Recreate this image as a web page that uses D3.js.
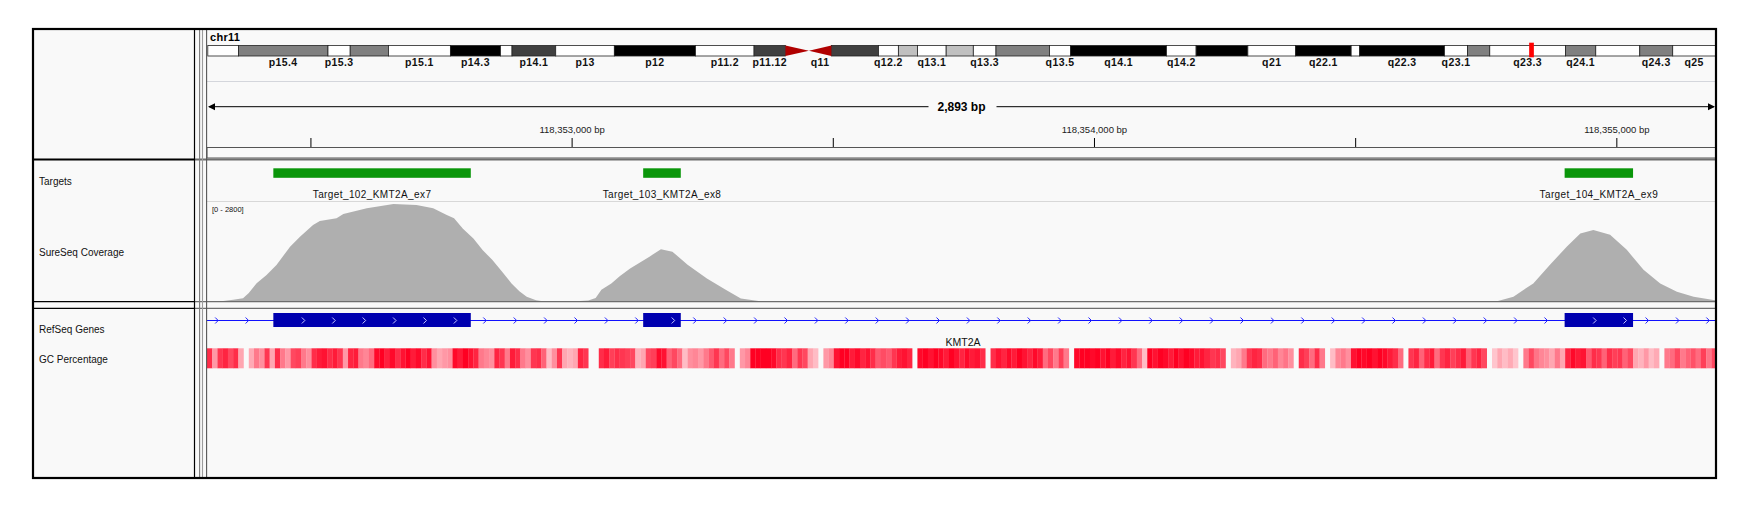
<!DOCTYPE html>
<html>
<head>
<meta charset="utf-8">
<script src="https://cdn.jsdelivr.net/npm/d3@7"></script>
<style>
  body { margin: 0; background: #fff; }
  svg { display: block; font-family: "Liberation Sans", Arial, sans-serif; }
</style>
</head>
<body>
<div id="igv"></div>
<script>
// ---- data ----
const chromName = "chr11";
const chromLength = 135.0; // Mb
const viewStart = 118352302, viewEnd = 118355195;
const rulerTicks = [118352500, 118353000, 118353500, 118354000, 118354500, 118355000];

const bandNames = ["p15.5","p15.4","p15.3","p15.2","p15.1","p14.3","p14.2","p14.1","p13","p12","p11.2","p11.12","p11.11",
  "q11","q12.1","q12.2","q12.3","q13.1","q13.2","q13.3","q13.4","q13.5","q14.1","q14.2","q14.3","q21","q22.1","q22.2",
  "q22.3","q23.1","q23.2","q23.3","q24.1","q24.2","q24.3","q25"];
const bandStarts = [0, 2.74, 10.76, 12.75, 16.17, 21.72, 26.21, 27.24, 31.15, 36.40, 43.67, 48.91, 51.72,
  53.82, 55.83, 60.05, 61.83, 63.54, 66.11, 68.54, 70.57, 75.36, 77.25, 85.84, 88.49, 93.12, 97.40, 102.37,
  103.13, 110.73, 112.79, 114.78, 121.56, 124.27, 128.21, 131.16];
const bandStains = ["gneg","gpos50","gneg","gpos50","gneg","gpos100","gneg","gpos75","gneg","gpos100","gneg","gpos75","acen",
  "acen","gpos75","gneg","gpos25","gneg","gpos25","gneg","gpos50","gneg","gpos100","gneg","gpos100","gneg","gpos100","gneg",
  "gpos100","gneg","gpos50","gneg","gpos50","gneg","gpos50","gneg"];
const shownBands = ["p15.4","p15.3","p15.1","p14.3","p14.1","p13","p12","p11.2","p11.12","q11","q12.2","q13.1","q13.3",
  "q13.5","q14.1","q14.2","q21","q22.1","q22.3","q23.1","q23.3","q24.1","q24.3","q25"];

const trackNames = ["Targets", "SureSeq Coverage", "RefSeq Genes", "GC Percentage"];

const targetNames = ["Target_102_KMT2A_ex7", "Target_103_KMT2A_ex8", "Target_104_KMT2A_ex9"];
const targetStarts = [118352429, 118353137, 118354901];
const targetEnds = [118352807, 118353209, 118355032];

const coverageMax = 2800;
const coverageOffset = [0, 15, 31, 50, 69, 80, 95, 114, 133, 159, 178, 203, 216, 248, 261, 306, 357, 401, 433, 459,
  473, 490, 510, 528, 546, 565, 583, 598, 612, 630, 649, 689, 730, 744, 755, 774, 790, 810, 847, 869, 891, 920, 957,
  993, 1022, 1059, 1078, 2440, 2466, 2501, 2539, 2571, 2603, 2629, 2654, 2686, 2718, 2750, 2782, 2814, 2846, 2884, 2893];
const coverageDepth = [20, 25, 28, 60, 104, 250, 524, 756, 1036, 1548, 1828, 2156, 2268, 2344, 2464, 2624, 2744, 2716, 2624, 2436,
  2344, 2050, 1780, 1450, 1180, 850, 520, 300, 150, 50, 10, 10, 40, 110, 340, 520, 720, 940, 1270, 1480, 1410, 1040, 660,
  340, 100, 20, 0, 0, 5, 150, 520, 1040, 1550, 1920, 2016, 1880, 1460, 900, 520, 290, 150, 55, 45];

const geneName = "KMT2A";
const exonStarts = [118352429, 118353137, 118354901];
const exonEnds = [118352807, 118353209, 118355032];

const gcWindow = 10; // bp per value
const gcValues = [
  72, 48, 70, 74, 66, 72, 45, 0, 44, 55,
  50, 70, 45, 72, 55, 48, 66, 68, 55, 50,
  72, 76, 78, 72, 76, 70, 48, 74, 76, 55,
  52, 58, 80, 82, 75, 80, 72, 78, 82, 76,
  80, 72, 78, 50, 45, 48, 50, 80, 76, 82,
  78, 74, 55, 52, 50, 74, 70, 55, 76, 72,
  55, 50, 70, 72, 60, 40, 50, 70, 45, 42,
  45, 74, 70, 0, 0, 72, 76, 68, 72, 70,
  68, 66, 42, 45, 66, 68, 80, 78, 60, 66,
  58, 40, 50, 52, 48, 55, 62, 70, 58, 66,
  55, 0, 48, 52, 85, 85, 82, 85, 80, 72,
  70, 74, 58, 70, 66, 45, 40, 0, 48, 52,
  78, 82, 84, 76, 80, 74, 78, 72, 62, 65,
  62, 70, 76, 78, 74, 0, 80, 82, 78, 84,
  80, 76, 82, 78, 74, 80, 76, 78, 72, 0,
  72, 78, 74, 80, 76, 82, 78, 74, 80, 76,
  58, 66, 55, 68, 55, 0, 80, 82, 84, 80,
  82, 78, 84, 76, 80, 74, 78, 70, 58, 40,
  82, 78, 84, 80, 76, 82, 78, 84, 80, 76,
  78, 74, 70, 72, 66, 0, 42, 45, 55, 70,
  74, 72, 58, 55, 60, 52, 56, 50, 0, 72,
  68, 58, 72, 55, 0, 40, 52, 55, 50, 78,
  82, 80, 84, 78, 82, 80, 76, 72, 58, 0,
  70, 74, 60, 72, 76, 58, 70, 74, 68, 72,
  76, 60, 70, 74, 66, 0, 38, 45, 40, 44,
  38, 0, 55, 66, 56, 52, 50, 45, 55, 45,
  74, 80, 76, 78, 62, 72, 70, 60, 72, 68,
  70, 60, 66, 45, 42, 48, 40, 44, 0, 55,
  58, 66, 55, 60, 64, 58, 68, 56, 66, 60
];

// ---- layout ----
const W = 1753, H = 514;
const frame = { left: 33, top: 29, right: 1716, bottom: 478 };
const nameRight = 194.5;
const dataLeft = 207, dataRight = 1716;

const svg = d3.select("#igv").append("svg")
  .attr("width", W).attr("height", H);

svg.append("rect").attr("width", W).attr("height", H).attr("fill", "#fff");
svg.append("rect")
  .attr("x", frame.left).attr("y", frame.top)
  .attr("width", frame.right - frame.left).attr("height", frame.bottom - frame.top)
  .attr("fill", "#f9f9f9");

const defs = svg.append("defs");
defs.append("clipPath").attr("id", "dataClip")
  .append("rect").attr("x", dataLeft).attr("y", frame.top)
  .attr("width", dataRight - dataLeft).attr("height", frame.bottom - frame.top);

// genomic scale (the view runs a little past the visible panel edge)
const x = d3.scaleLinear().domain([viewStart, viewEnd]).range([dataLeft, 1718.2]);

// ---- header: ideogram ----
const header = svg.append("g");
header.append("text")
  .attr("x", 210).attr("y", 41)
  .attr("font-size", 11).attr("font-weight", "bold").attr("letter-spacing", 0.3)
  .text(chromName);

const ideoX = d3.scaleLinear().domain([0, chromLength]).range([207.8, 1715.6]);
const stainColor = { gneg: "#ffffff", gpos25: "#c0c0c0", gpos50: "#808080", gpos75: "#404040", gpos100: "#000000" };
const bands = bandNames.map((n, i) => ({
  name: n, start: bandStarts[i], end: i + 1 < bandStarts.length ? bandStarts[i + 1] : chromLength, stain: bandStains[i]
}));
const ideoTop = 45.5, ideoH = 10.5, ideoMid = ideoTop + ideoH / 2;

bands.filter(b => b.stain !== "acen").forEach(b => {
  header.append("rect")
    .attr("x", ideoX(b.start)).attr("y", ideoTop)
    .attr("width", ideoX(b.end) - ideoX(b.start)).attr("height", ideoH)
    .attr("fill", stainColor[b.stain])
    .attr("stroke", "#222").attr("stroke-width", 0.8);
});
// centromere
bands.filter(b => b.stain === "acen").forEach(b => {
  const x0 = ideoX(b.start), x1 = ideoX(b.end);
  const pts = b.name.startsWith("p")
    ? [[x0, ideoTop], [x1, ideoMid], [x0, ideoTop + ideoH]]
    : [[x1, ideoTop], [x0, ideoMid], [x1, ideoTop + ideoH]];
  header.append("path").attr("d", d3.line()(pts) + "Z").attr("fill", "#b00000");
});
header.selectAll(".bandLabel")
  .data(bands.filter(b => shownBands.includes(b.name)))
  .join("text")
  .attr("class", "bandLabel")
  .attr("x", b => (ideoX(b.start) + ideoX(b.end)) / 2)
  .attr("y", 66)
  .attr("text-anchor", "middle")
  .attr("font-size", 10.5).attr("font-weight", "bold").attr("letter-spacing", 0.4)
  .attr("fill", "#111")
  .text(b => b.name);

// current view marker
const markX = ideoX(viewStart / 1e6);
header.append("rect")
  .attr("x", markX - 0.5).attr("y", 42.7)
  .attr("width", Math.max(ideoX(viewEnd / 1e6) - markX, 4.7)).attr("height", 14.6)
  .attr("fill", "#ff0000");

header.append("line")
  .attr("x1", dataLeft).attr("x2", dataRight).attr("y1", 81.5).attr("y2", 81.5)
  .attr("stroke", "#d4d6dc");

// ---- header: ruler ----
const spanY = 106.7;
const spanLabel = d3.format(",")(viewEnd - viewStart) + " bp";
const midX = (dataLeft + dataRight) / 2;
header.append("line").attr("x1", dataLeft + 2).attr("x2", midX - 33).attr("y1", spanY).attr("y2", spanY).attr("stroke", "#000");
header.append("line").attr("x1", midX + 35).attr("x2", dataRight - 2).attr("y1", spanY).attr("y2", spanY).attr("stroke", "#000");
header.append("path").attr("d", d3.line()([[dataLeft + 1, spanY], [dataLeft + 8, spanY - 3.5], [dataLeft + 8, spanY + 3.5]]) + "Z").attr("fill", "#000");
header.append("path").attr("d", d3.line()([[dataRight - 1, spanY], [dataRight - 8, spanY - 3.5], [dataRight - 8, spanY + 3.5]]) + "Z").attr("fill", "#000");
header.append("text")
  .attr("x", midX).attr("y", spanY + 4.3)
  .attr("text-anchor", "middle").attr("font-size", 12).attr("font-weight", "bold")
  .text(spanLabel);

const axis = d3.axisTop(x)
  .tickValues(rulerTicks)
  .tickSize(9.5)
  .tickPadding(5.5)
  .tickFormat(t => t % 1000 === 0 ? d3.format(",")(t) + " bp" : "");
const axisG = header.append("g")
  .attr("transform", "translate(0,147.5)")
  .call(axis);
axisG.select(".domain").remove();
axisG.selectAll("text").attr("font-size", 9.5).attr("font-family", "'Liberation Sans', Arial, sans-serif").attr("fill", "#222");
axisG.selectAll("line").attr("stroke", "#000");

header.append("rect")
  .attr("x", dataLeft).attr("y", 147.5)
  .attr("width", dataRight - dataLeft).attr("height", 10.5)
  .attr("fill", "none").attr("stroke", "#555");

// ---- track area ----
const data = svg.append("g").attr("clip-path", "url(#dataClip)");

// Targets
const targets = targetNames.map((n, i) => ({ name: n, start: targetStarts[i], end: targetEnds[i] }));
data.selectAll(".target")
  .data(targets)
  .join("rect")
  .attr("class", "target")
  .attr("x", d => x(d.start)).attr("y", 168.3)
  .attr("width", d => x(d.end) - x(d.start)).attr("height", 9.5)
  .attr("fill", "#0a960a");
data.selectAll(".targetLabel")
  .data(targets)
  .join("text")
  .attr("class", "targetLabel")
  .attr("x", d => (x(d.start) + x(d.end)) / 2).attr("y", 198)
  .attr("text-anchor", "middle").attr("font-size", 10).attr("letter-spacing", 0.4)
  .attr("fill", "#111")
  .text(d => d.name);

data.append("line")
  .attr("x1", dataLeft).attr("x2", dataRight).attr("y1", 201.5).attr("y2", 201.5)
  .attr("stroke", "#d8d8d8");

// Coverage
const yCov = d3.scaleLinear().domain([0, coverageMax]).range([302, 202]);
const coverage = coverageOffset.map((o, i) => ({ pos: viewStart + o, depth: coverageDepth[i] }));
data.append("path")
  .datum(coverage)
  .attr("fill", "#afafaf")
  .attr("d", d3.area().x(d => x(d.pos)).y0(yCov(0)).y1(d => yCov(d.depth)));
data.append("text")
  .attr("x", 212).attr("y", 212)
  .attr("font-size", 7.5).attr("fill", "#111")
  .text("[0 - " + coverageMax + "]");

// RefSeq gene
const geneY = 320.5;
data.append("line")
  .attr("x1", dataLeft).attr("x2", dataRight).attr("y1", geneY).attr("y2", geneY)
  .attr("stroke", "#1010ff").attr("stroke-width", 1.2);
const exons = exonStarts.map((s, i) => ({ start: s, end: exonEnds[i] }));
data.selectAll(".exon")
  .data(exons)
  .join("rect")
  .attr("class", "exon")
  .attr("x", d => x(d.start)).attr("y", 313)
  .attr("width", d => x(d.end) - x(d.start)).attr("height", 14)
  .attr("fill", "#0000b0");

const chevron = cx => d3.line()([[cx - 1.5, geneY - 3], [cx + 1.5, geneY], [cx - 1.5, geneY + 3]]);
const step = 30.4;
// introns: gaps between the exons (gene runs past both edges of the view)
const intronEdges = [dataLeft, ...exons.flatMap(e => [x(e.start), x(e.end)]), dataRight];
for (let i = 0; i < intronEdges.length; i += 2) {
  for (let cx = intronEdges[i] + (i === 0 ? 9.7 : 14); cx < intronEdges[i + 1] - 5; cx += step) {
    data.append("path").attr("d", chevron(cx)).attr("fill", "none").attr("stroke", "#2020ff").attr("stroke-width", 1);
  }
}
exons.forEach(e => {
  for (let cx = x(e.start) + 30; cx < x(e.end) - 5; cx += step) {
    data.append("path").attr("d", chevron(cx)).attr("fill", "none").attr("stroke", "#c8c8ff").attr("stroke-width", 1);
  }
});
data.append("text")
  .attr("x", 963).attr("y", 346)
  .attr("text-anchor", "middle").attr("font-size", 10.5).attr("fill", "#111")
  .text(geneName);

// GC percentage heatmap
const gcColor = d3.scaleLinear().domain([25, 82]).range(["#ffffff", "#ff0022"]).clamp(true);
data.selectAll(".gc")
  .data(gcValues.map((v, i) => ({ start: viewStart + i * gcWindow, value: v })).filter(d => d.value > 0))
  .join("rect")
  .attr("class", "gc")
  .attr("x", d => x(d.start)).attr("y", 348.3)
  .attr("width", d => x(d.start + gcWindow) - x(d.start) + 0.2).attr("height", 20)
  .attr("fill", d => gcColor(d.value));

// ---- track names ----
const nameY = [181.7, 252.7, 329, 359.3];
svg.selectAll(".trackName")
  .data(trackNames)
  .join("text")
  .attr("class", "trackName")
  .attr("x", 39).attr("y", (d, i) => nameY[i])
  .attr("dy", "0.35em")
  .attr("font-size", 10).attr("fill", "#111")
  .text(d => d);

// ---- panel borders ----
const borders = svg.append("g");
[[159.5, 2.2], [301.6, 1.4], [308.4, 1.2]].forEach(([yy, sw]) => {
  borders.append("line").attr("x1", nameRight).attr("x2", dataRight).attr("y1", yy).attr("y2", yy)
    .attr("stroke", "#6e6e6e").attr("stroke-width", sw);
  borders.append("line").attr("x1", frame.left).attr("x2", nameRight).attr("y1", yy).attr("y2", yy)
    .attr("stroke", "#000").attr("stroke-width", sw);
});
borders.append("line").attr("x1", nameRight).attr("x2", nameRight).attr("y1", frame.top).attr("y2", frame.bottom)
  .attr("stroke", "#000").attr("stroke-width", 1.2);
[[199.6, "#7a7a7a"], [202.5, "#9c9c9c"], [206.6, "#555"]].forEach(([xx, c]) => {
  borders.append("line").attr("x1", xx).attr("x2", xx).attr("y1", frame.top).attr("y2", frame.bottom)
    .attr("stroke", c).attr("stroke-width", 1.1);
});
borders.append("rect")
  .attr("x", frame.left).attr("y", frame.top)
  .attr("width", frame.right - frame.left).attr("height", frame.bottom - frame.top)
  .attr("fill", "none").attr("stroke", "#000").attr("stroke-width", 2.2);
</script>
</body>
</html>
